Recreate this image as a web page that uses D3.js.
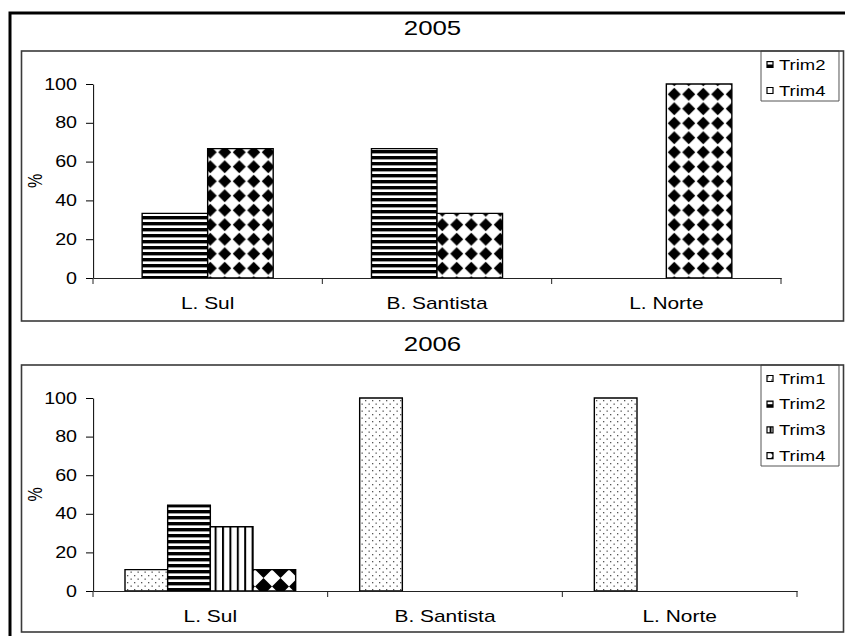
<!DOCTYPE html>
<html lang="pt">
<head>
<meta charset="UTF-8">
<title>Trimestres 2005 / 2006</title>
<script src="https://d3js.org/d3.v7.min.js"></script>
<style>
  html, body { margin: 0; padding: 0; background: #fff; }
  svg { display: block; font-family: "Liberation Sans", Arial, sans-serif; }
  .axis path, .axis line, .bar, .legend-box, .swatch { vector-effect: non-scaling-stroke; }
</style>
</head>
<body>
<svg id="chart" width="845" height="636"></svg>
<script>
// dados
const categories = ["L. Sul", "B. Santista", "L. Norte"];
const yTicks = [0, 20, 40, 60, 80, 100];

const series2005 = ["Trim2", "Trim4"];
const trim2_2005 = [33.3, 66.7, 0];
const trim4_2005 = [66.7, 33.3, 100];

const series2006 = ["Trim1", "Trim2", "Trim3", "Trim4"];
const trim1_2006 = [11.1, 100, 100];
const trim2_2006 = [44.4, 0, 0];
const trim3_2006 = [33.3, 0, 0];
const trim4_2006 = [11.1, 0, 0];

// the original picture is stretched sideways, so text and marks are drawn
// in a narrower space and scaled by K
const K = 1.23;

const svg = d3.select("#chart");
const defs = svg.append("defs");

function diamond(w, h, r) {
    return `M${w / 2},${h / 2 - r * h}L${w / 2 + r * w},${h / 2}L${w / 2},${h / 2 + r * h}L${w / 2 - r * w},${h / 2}Z`;
}

function patternDef(id, wReal, hReal, draw) {
    const w = wReal / K;
    const p = defs.append("pattern")
        .attr("id", id)
        .attr("patternUnits", "userSpaceOnUse")
        .attr("width", w)
        .attr("height", hReal);
    p.append("rect").attr("width", w).attr("height", hReal).attr("fill", "#fff");
    draw(p, w, hReal);
}

patternDef("hstripe", 4, 6, (p, w, h) =>
    p.append("rect").attr("width", w).attr("height", 3.4).attr("fill", "#000"));
patternDef("diamond", 14.5, 14.5, (p, w, h) =>
    p.append("path").attr("d", diamond(w, h, 0.45)).attr("fill", "#000"));
patternDef("dots", 7, 7, (p, w, h) => {
    p.append("rect").attr("x", 1 / K).attr("y", 1).attr("width", 1.3 / K).attr("height", 1.3).attr("fill", "#555");
    p.append("rect").attr("x", 4.5 / K).attr("y", 4.5).attr("width", 1.3 / K).attr("height", 1.3).attr("fill", "#555");
});
patternDef("vstripe", 7.4, 4, (p, w, h) =>
    p.append("rect").attr("width", 2 / K).attr("height", h).attr("fill", "#000"));
patternDef("checker", 17, 17, (p, w, h) =>
    p.append("path").attr("d", diamond(w, h, 0.5)).attr("fill", "#000"));

// moldura externa
svg.append("rect")
    .attr("x", 10).attr("y", 13)
    .attr("width", 900).attr("height", 700)
    .attr("fill", "none").attr("stroke", "#000").attr("stroke-width", 3);

const g = svg.append("g").attr("transform", `scale(${K},1)`);

function drawPanel(o) {
    // caixa do gráfico (coordenadas reais)
    svg.append("rect")
        .attr("x", 21.5).attr("y", o.boxTop)
        .attr("width", 822).attr("height", o.boxBottom - o.boxTop)
        .attr("fill", "none").attr("stroke", "#3a3a3a").attr("stroke-width", 1.6);

    const p = g.append("g");

    // título
    p.append("text")
        .attr("x", 432.5 / K).attr("y", o.titleY)
        .attr("dy", "0.35em")
        .attr("text-anchor", "middle")
        .attr("font-size", 21)
        .text(o.title);

    const x = d3.scaleBand()
        .domain(categories)
        .range([93 / K, o.right / K]);

    const n = o.series.length;
    const gap = x.bandwidth() * 1.5 / (n + 1.5);
    const xs = d3.scaleBand()
        .domain(o.series)
        .range([gap / 2, x.bandwidth() - gap / 2]);

    const y = d3.scaleLinear()
        .domain([0, 100])
        .range([o.bottom, o.top]);

    // barras
    o.series.forEach((s, si) => {
        const vals = o.values[si];
        p.append("g").selectAll("rect")
            .data(categories.map((c, i) => ({ c: c, v: vals[i] })).filter(d => d.v > 0))
            .join("rect")
            .attr("class", "bar")
            .attr("x", d => x(d.c) + xs(s))
            .attr("y", d => y(d.v))
            .attr("width", xs.bandwidth())
            .attr("height", d => y(0) - y(d.v))
            .attr("fill", `url(#${o.fills[si]})`)
            .attr("stroke", "#000")
            .attr("stroke-width", 1.4);
    });

    // eixo y
    const ya = p.append("g")
        .attr("class", "axis")
        .attr("transform", `translate(${93 / K},0)`)
        .call(d3.axisLeft(y).tickValues(yTicks).tickSize(7 / K).tickPadding(9 / K).tickSizeOuter(0));
    ya.attr("font-size", null).attr("font-family", null);
    ya.selectAll("text").attr("font-size", 16).attr("fill", "#000");
    ya.selectAll("line, path").attr("stroke", "#000");

    // eixo x
    const xa = p.append("g")
        .attr("class", "axis")
        .attr("transform", `translate(0,${o.bottom})`)
        .call(d3.axisBottom(x).tickSize(0).tickPadding(19).tickSizeOuter(0));
    xa.attr("font-size", null).attr("font-family", null);
    xa.selectAll("text").attr("font-size", 17).attr("fill", "#000");
    xa.select(".domain").attr("stroke", "#222");

    const bounds = categories.map(c => x(c)).concat([x(categories[categories.length - 1]) + x.bandwidth()]);
    xa.selectAll(".sep")
        .data(bounds)
        .join("line")
        .attr("class", "sep")
        .attr("x1", d => d).attr("x2", d => d)
        .attr("y1", 0).attr("y2", 6)
        .attr("stroke", "#222");

    // rótulo do eixo
    p.append("text")
        .attr("transform", `translate(${35 / K},${(o.top + o.bottom) / 2}) rotate(-90)`)
        .attr("text-anchor", "middle")
        .attr("dy", "0.35em")
        .attr("font-size", 16)
        .text("%");

    // legenda
    const lg = p.append("g");
    lg.append("rect")
        .attr("class", "legend-box")
        .attr("x", 761 / K).attr("y", o.boxTop)
        .attr("width", 78 / K).attr("height", o.legendBottom - o.boxTop)
        .attr("fill", "#fff").attr("stroke", "#555").attr("stroke-width", 1);

    const item = lg.selectAll(".item")
        .data(o.series)
        .join("g")
        .attr("class", "item")
        .attr("transform", (d, i) => `translate(0,${o.boxTop + 13.5 + i * o.legendStep})`);
    item.append("rect")
        .attr("class", "swatch")
        .attr("x", 767 / K).attr("y", -3)
        .attr("width", 6 / K).attr("height", 6)
        .attr("fill", (d, i) => `url(#${o.fills[i]})`)
        .attr("stroke", "#000").attr("stroke-width", 1.2);
    item.append("text")
        .attr("x", 779 / K)
        .attr("dy", "0.35em")
        .attr("font-size", 15)
        .text(d => d);
}

drawPanel({
    title: "2005",
    titleY: 28,
    series: series2005,
    values: [trim2_2005, trim4_2005],
    fills: ["hstripe", "diamond"],
    boxTop: 51, boxBottom: 321,
    top: 84, bottom: 278, right: 781,
    legendBottom: 101, legendStep: 26
});

drawPanel({
    title: "2006",
    titleY: 344,
    series: series2006,
    values: [trim1_2006, trim2_2006, trim3_2006, trim4_2006],
    fills: ["dots", "hstripe", "vstripe", "checker"],
    boxTop: 365, boxBottom: 632,
    top: 398, bottom: 591, right: 797,
    legendBottom: 466, legendStep: 25.7
});
</script>
</body>
</html>
